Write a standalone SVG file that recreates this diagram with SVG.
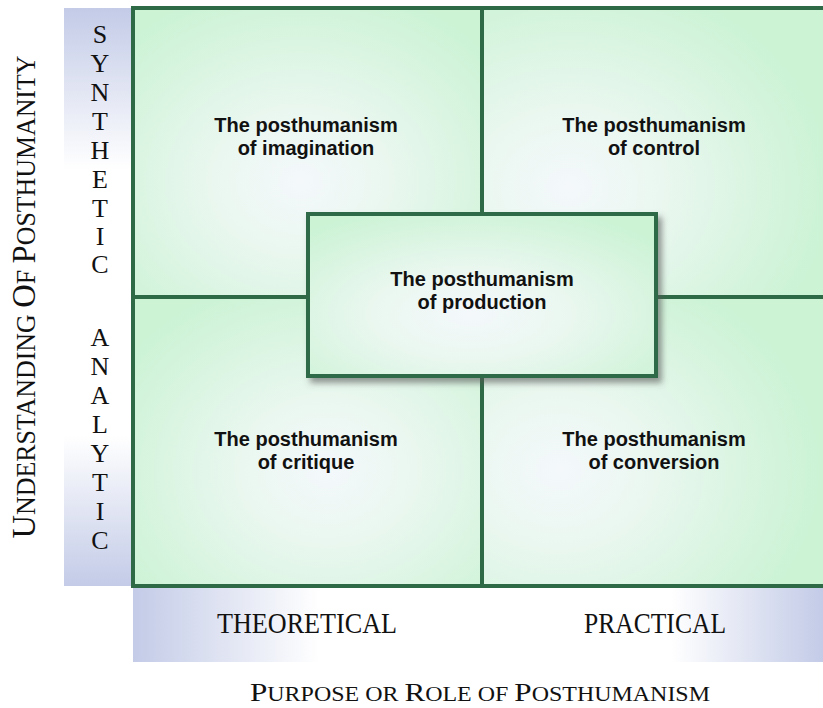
<svg xmlns="http://www.w3.org/2000/svg" width="823" height="708" viewBox="0 0 823 708">
  <style>
    .cell { stroke: #2f6a46; stroke-width: 4; }
    .title { font-family: "Liberation Sans", Arial, sans-serif; font-weight: bold; font-size: 20px; fill: #111; text-anchor: middle; }
    .axis { font-family: "Liberation Serif", "DejaVu Serif", serif; fill: #111; }
    .letter { font-family: "Liberation Serif", "DejaVu Serif", serif; font-size: 26px; fill: #111; text-anchor: middle; }
  </style>
  <defs>
    <linearGradient id="bandV" x1="0" y1="0" x2="0" y2="1">
      <stop offset="0" stop-color="#c3cbe7"/>
      <stop offset="0.28" stop-color="#ffffff"/>
      <stop offset="0.74" stop-color="#ffffff"/>
      <stop offset="1" stop-color="#c3cbe7"/>
    </linearGradient>
    <linearGradient id="bandH" x1="0" y1="0" x2="1" y2="0">
      <stop offset="0" stop-color="#c3cbe7"/>
      <stop offset="0.27" stop-color="#ffffff"/>
      <stop offset="0.78" stop-color="#ffffff"/>
      <stop offset="1" stop-color="#c3cbe7"/>
    </linearGradient>
    <radialGradient id="gTL" cx="0.48" cy="0.6" r="0.7">
      <stop offset="0" stop-color="#f4f8fb"/>
      <stop offset="0.35" stop-color="#eaf7f0"/>
      <stop offset="1" stop-color="#cbf3d4"/>
    </radialGradient>
    <radialGradient id="gTR" cx="0.25" cy="0.62" r="0.75">
      <stop offset="0" stop-color="#f4f8fb"/>
      <stop offset="0.35" stop-color="#eaf7f0"/>
      <stop offset="1" stop-color="#cbf3d4"/>
    </radialGradient>
    <radialGradient id="gBL" cx="0.56" cy="0.6" r="0.7">
      <stop offset="0" stop-color="#f4f8fb"/>
      <stop offset="0.35" stop-color="#eaf7f0"/>
      <stop offset="1" stop-color="#cbf3d4"/>
    </radialGradient>
    <radialGradient id="gBR" cx="0.22" cy="0.6" r="0.75">
      <stop offset="0" stop-color="#f4f8fb"/>
      <stop offset="0.35" stop-color="#eaf7f0"/>
      <stop offset="1" stop-color="#cbf3d4"/>
    </radialGradient>
    <radialGradient id="gC" cx="0.47" cy="0.62" r="0.7">
      <stop offset="0" stop-color="#f4f8fb"/>
      <stop offset="0.4" stop-color="#eaf7f0"/>
      <stop offset="1" stop-color="#cbf3d4"/>
    </radialGradient>
    <filter id="shadow" x="-10%" y="-10%" width="125%" height="130%">
      <feDropShadow dx="4" dy="5" stdDeviation="3" flood-color="#555" flood-opacity="0.6"/>
    </filter>
  </defs>

  <!-- axis bands -->
  <g id="band-left">
    <rect x="64" y="8" width="69" height="578" fill="url(#bandV)"/>
    <g class="letter">
      <text x="100" y="43">S</text>
      <text x="100" y="72">Y</text>
      <text x="100" y="101">N</text>
      <text x="100" y="130">T</text>
      <text x="100" y="159">H</text>
      <text x="100" y="188">E</text>
      <text x="100" y="217">T</text>
      <text x="100" y="245">I</text>
      <text x="100" y="273">C</text>
      <text x="100" y="346">A</text>
      <text x="100" y="375">N</text>
      <text x="100" y="404">A</text>
      <text x="100" y="433">L</text>
      <text x="100" y="462">Y</text>
      <text x="100" y="491">T</text>
      <text x="100" y="520">I</text>
      <text x="100" y="549">C</text>
    </g>
  </g>
  <g id="band-bottom">
    <rect x="133" y="587" width="690" height="75" fill="url(#bandH)"/>
    <text class="axis" x="307" y="633" font-size="29" text-anchor="middle" textLength="180" lengthAdjust="spacingAndGlyphs">THEORETICAL</text>
    <text class="axis" x="655" y="633" font-size="29" text-anchor="middle" textLength="142" lengthAdjust="spacingAndGlyphs">PRACTICAL</text>
  </g>

  <!-- axis titles -->
  <g id="axis-y">
    <text class="axis" transform="translate(35,297) rotate(-90)" text-anchor="middle" textLength="483" lengthAdjust="spacingAndGlyphs"><tspan font-size="34">U</tspan><tspan font-size="27">NDERSTANDING </tspan><tspan font-size="34">O</tspan><tspan font-size="27">F </tspan><tspan font-size="34">P</tspan><tspan font-size="27">OSTHUMANITY</tspan></text>
  </g>
  <g id="axis-x">
    <text class="axis" x="480" y="701" text-anchor="middle" textLength="460" lengthAdjust="spacingAndGlyphs"><tspan font-size="26">P</tspan><tspan font-size="20">URPOSE OR </tspan><tspan font-size="26">R</tspan><tspan font-size="20">OLE OF </tspan><tspan font-size="26">P</tspan><tspan font-size="20">OSTHUMANISM</tspan></text>
  </g>

  <!-- quadrants -->
  <g id="q-imagination">
    <rect class="cell" x="133" y="8" width="349" height="289" fill="url(#gTL)"/>
    <text class="title"><tspan x="306" y="132">The posthumanism</tspan><tspan x="306" dy="23">of imagination</tspan></text>
  </g>
  <g id="q-control">
    <rect class="cell" x="482" y="8" width="350" height="289" fill="url(#gTR)"/>
    <text class="title"><tspan x="654" y="132">The posthumanism</tspan><tspan x="654" dy="23">of control</tspan></text>
  </g>
  <g id="q-critique">
    <rect class="cell" x="133" y="297" width="349" height="289" fill="url(#gBL)"/>
    <text class="title"><tspan x="306" y="446">The posthumanism</tspan><tspan x="306" dy="23">of critique</tspan></text>
  </g>
  <g id="q-conversion">
    <rect class="cell" x="482" y="297" width="350" height="289" fill="url(#gBR)"/>
    <text class="title"><tspan x="654" y="446">The posthumanism</tspan><tspan x="654" dy="23">of conversion</tspan></text>
  </g>
  <g id="connectors"></g>
  <g id="c-production">
    <rect class="cell" x="308" y="214" width="348" height="162" fill="url(#gC)" filter="url(#shadow)"/>
    <text class="title"><tspan x="482" y="286">The posthumanism</tspan><tspan x="482" dy="23">of production</tspan></text>
  </g>
</svg>
